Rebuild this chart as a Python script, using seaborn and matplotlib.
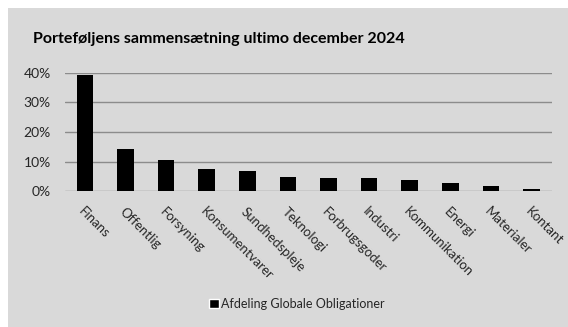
import numpy as np
import pandas as pd
import seaborn as sns
import matplotlib.pyplot as plt
from matplotlib.patches import Rectangle
from matplotlib.ticker import FuncFormatter

# data (percent of portfolio)
sektorer = ["Finans", "Offentlig", "Forsyning", "Konsumentvarer", "Sundhedspleje",
            "Teknologi", "Forbrugsgoder", "Industri", "Kommunikation", "Energi",
            "Materialer", "Kontant"]
andel = [39.4, 14.3, 10.6, 7.4, 6.8, 4.7, 4.6, 4.4, 3.7, 2.9, 1.8, 0.9]
serie = "Afdeling Globale Obligationer"

df = pd.DataFrame({"sektor": sektorer, "andel": andel})

bg = "#d9d9d9"
sns.set_theme(style="white")
plt.rcParams["font.family"] = ["Lato", "DejaVu Sans"]

fig = plt.figure(figsize=(5.68, 3.27), dpi=100)
fig.patch.set_facecolor("white")
# grey chart area with a small white margin at top/left
fig.patches.append(Rectangle((8 / 568, 0), 1, 1 - 8 / 327, transform=fig.transFigure,
                             facecolor=bg, edgecolor="none", zorder=-10))

ax = fig.add_axes([64.7 / 568, 1 - 191.3 / 327, (551.7 - 64.7) / 568, (191.3 - 72.9) / 327])
ax.patch.set_alpha(0)

sns.barplot(data=df, x="sektor", y="andel", color="black", width=0.41,
            saturation=1, linewidth=0, ax=ax, zorder=3)

ax.set_ylim(0, 40)
ax.set_yticks([0, 10, 20, 30, 40])
ax.yaxis.set_major_formatter(FuncFormatter(lambda v, _: f"{v:.0f}%"))
ax.grid(axis="y", color="#8c8c8c", linewidth=1.0, zorder=0)
ax.set_axisbelow(True)
for s in ax.spines.values():
    s.set_visible(False)
ax.tick_params(axis="both", length=0, labelsize=10, colors="#262626")
ax.tick_params(axis="y", pad=10)
ax.set_xlabel("")
ax.set_ylabel("")
ax.set_xticks(range(len(sektorer)))
ax.set_xticklabels(sektorer, rotation=-45, ha="left", va="top",
                   rotation_mode="anchor", fontsize=9.5)
ax.tick_params(axis="x", pad=10)

fig.text(33 / 568, 1 - 39 / 327, "Porteføljens sammensætning ultimo december 2024",
         fontsize=11.5, fontweight="bold", color="black", va="center", ha="left")

handle = Rectangle((0, 0), 1, 1, facecolor="black")
fig.legend([handle], [serie], loc="center", bbox_to_anchor=(297 / 568, 1 - 304 / 327),
           frameon=False, fontsize=9, handlelength=0.8, handleheight=0.8,
           handletextpad=0.2, labelcolor="#262626")

fig.savefig("out.png", dpi=100, facecolor=fig.get_facecolor())
